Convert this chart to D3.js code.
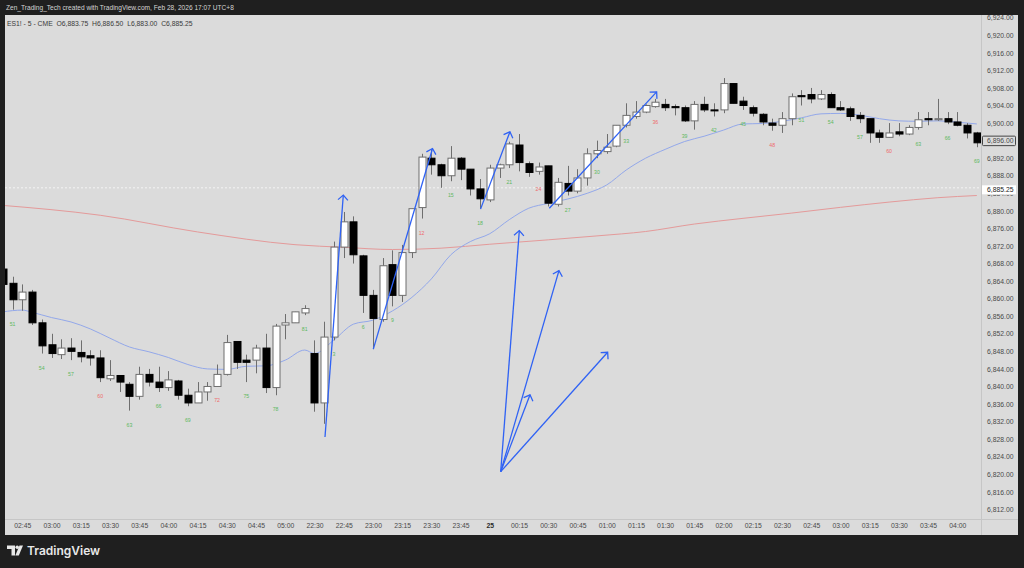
<!DOCTYPE html>
<html>
<head>
<meta charset="UTF-8">
<title>ES1! 5 - CME</title>
<style>
  body { margin: 0; background: #1f1f1f; }
  svg { display: block; }
  text { font-family: "Liberation Sans", Arial, sans-serif; }
  .axis text { font-size: 6.8px; fill: #4a4a4a; }
  .cnt { font-size: 5.2px; text-anchor: middle; }
</style>
</head>
<body>
<svg id="chart" width="1024" height="568"></svg>
<script src="https://cdn.jsdelivr.net/npm/d3@7"></script>
<script>
// bar 0 = 02:35 (session bar 50), bar 32 = 22:30 (new session, bar 1)
var open = [6866.75,6863.5,6859.75,6861.5,6854.5,6849.5,6847.25,6848.75,6847.75,6847.0,
  6846.5,6841.75,6842.5,6840.5,6837.75,6842.75,6841.0,6839.75,6841.25,6838.0,
  6836.25,6838.75,6840.0,6842.75,6850.25,6846.0,6846.0,6848.75,6839.75,6854.0,
  6854.5,6856.75,6847.5,6836.25,6851.25,6871.75,6877.5,6869.75,6860.75,6855.25,
  6867.75,6860.75,6870.5,6880.75,6892.0,6890.5,6888.0,6892.0,6889.5,6885.0,
  6882.5,6889.75,6890.5,6895.0,6890.75,6889.0,6890.25,6881.5,6886.25,6884.5,
  6887.5,6893.0,6893.5,6894.75,6899.5,6901.5,6902.5,6903.75,6904.25,6903.75,
  6903.5,6900.5,6904.25,6903.0,6903.0,6909.0,6905.0,6903.5,6902.0,6900.0,
  6899.5,6901.0,6906.25,6906.5,6905.5,6906.5,6903.5,6903.25,6901.75,6901.0,
  6897.75,6896.75,6898.0,6897.5,6899.0,6901.0,6900.75,6901.0,6900.25,6899.5,6897.75];
var high = [6868.0,6865.0,6863.25,6862.0,6855.25,6852.0,6850.75,6851.0,6850.5,6848.25,
  6848.25,6846.0,6842.5,6841.0,6844.5,6844.0,6844.5,6843.5,6841.5,6839.5,
  6841.0,6841.0,6845.0,6851.75,6850.25,6847.25,6849.5,6852.0,6854.25,6856.5,
  6857.0,6858.5,6850.5,6854.75,6873.0,6879.75,6878.75,6870.0,6862.0,6869.25,
  6871.0,6872.25,6880.5,6893.0,6894.0,6890.75,6894.75,6892.25,6889.5,6887.25,
  6890.5,6890.75,6895.75,6897.5,6891.25,6891.0,6890.25,6887.5,6890.25,6889.5,
  6894.25,6896.0,6897.5,6899.5,6904.5,6905.0,6904.25,6905.5,6905.5,6904.25,
  6904.0,6905.0,6906.0,6904.5,6910.25,6909.0,6906.0,6904.0,6902.25,6901.0,
  6902.5,6906.75,6907.5,6908.0,6907.5,6907.0,6905.0,6903.75,6902.5,6901.0,
  6898.5,6900.0,6900.0,6899.5,6902.5,6902.5,6905.5,6902.5,6902.5,6900.0,6898.0];
var low = [6861.0,6857.5,6857.25,6854.0,6847.5,6846.5,6846.25,6846.0,6845.5,6844.75,
  6841.0,6841.25,6838.75,6834.5,6837.0,6840.0,6838.75,6839.0,6837.0,6835.5,
  6836.25,6836.75,6840.0,6842.5,6844.0,6841.0,6843.0,6838.5,6838.0,6850.75,
  6854.5,6856.25,6834.25,6831.5,6850.5,6869.25,6868.0,6856.75,6848.5,6854.75,
  6858.25,6859.25,6869.25,6878.25,6888.25,6885.25,6886.75,6887.0,6883.5,6880.5,
  6882.0,6887.5,6889.75,6889.0,6887.75,6888.25,6881.0,6881.0,6883.5,6884.0,
  6885.75,6892.0,6893.0,6894.5,6899.0,6901.0,6902.25,6903.5,6902.75,6901.75,
  6900.25,6898.5,6902.5,6901.5,6902.25,6904.5,6903.0,6901.5,6899.5,6898.25,
  6897.75,6899.5,6904.0,6904.5,6905.25,6903.5,6902.75,6900.5,6900.0,6895.5,
  6895.5,6896.75,6897.0,6897.25,6898.5,6899.5,6900.5,6899.75,6899.25,6896.5,6894.5];
var close = [6863.25,6859.75,6861.5,6854.5,6849.25,6847.5,6848.75,6848.0,6846.75,6846.5,
  6842.0,6842.5,6841.0,6837.75,6842.75,6841.0,6839.75,6841.5,6838.0,6836.25,
  6838.75,6840.0,6842.75,6850.0,6845.5,6845.5,6848.75,6839.75,6853.75,6854.5,
  6857.0,6857.75,6836.25,6851.25,6871.75,6877.5,6870.0,6860.75,6855.5,6867.5,
  6860.75,6870.5,6880.5,6892.25,6890.5,6888.0,6892.0,6889.5,6885.0,6882.75,
  6889.75,6890.5,6895.25,6891.0,6888.75,6890.0,6881.75,6886.5,6884.5,6887.5,
  6893.0,6893.75,6894.5,6899.5,6901.75,6902.5,6904.0,6904.75,6903.5,6903.5,
  6900.5,6904.25,6903.0,6903.0,6909.0,6904.5,6904.0,6902.25,6900.25,6899.5,
  6901.0,6906.0,6906.0,6905.5,6906.5,6903.5,6903.0,6901.5,6901.0,6897.75,
  6896.75,6897.75,6897.5,6899.0,6900.75,6900.75,6901.0,6900.25,6899.5,6897.75,6895.5];

var sessionStart = 32;          // first bar of the second session
var firstCount = 50;            // session bar number of bar 0

// fast average (blue): [bar, price]
var maFast = [[0,6857.0],[2,6857.4],[3,6856.9],[5,6855.7],[7,6854.7],[9,6853.1],[11,6851.0],
  [13,6849.0],[15,6847.9],[17,6846.6],[19,6845.0],[21,6844.0],[23,6843.9],[25,6844.6],
  [27,6844.7],[29,6846.0],[31,6848.3],[32,6847.5],[34,6850.6],[36,6854.2],[38,6855.1],
  [40,6857.2],[42,6860.3],[44,6864.5],[46,6870.0],[48,6873.0],[50,6874.8],[52,6878.0],
  [54,6880.6],[56,6881.7],[58,6882.7],[60,6884.0],[62,6885.9],[64,6889.3],[66,6892.0],
  [68,6894.0],[70,6895.8],[72,6897.0],[74,6898.4],[76,6899.8],[78,6899.9],[80,6900.4],
  [82,6901.2],[84,6902.1],[86,6902.2],[88,6901.8],[90,6901.0],[92,6900.5],[94,6900.4],
  [96,6900.5],[98,6900.2],[100,6899.8]];
// slow average (red)
var maSlow = [[-0.3,6881.3],[10,6879.0],[20,6875.2],[30,6872.3],[35,6871.7],[40,6871.2],
  [45,6871.5],[50,6872.4],[56,6873.4],[61,6874.3],[66,6875.3],[71,6877.0],[76,6878.3],
  [81,6879.5],[86,6880.8],[91,6882.0],[96,6883.0],[100,6883.5]];

// drawn arrows: [bar0, price0, bar1, price1]
var arrows = [[33.08,6828.5,34.96,6883.6],[38.04,6848.5,44.12,6894.2],
  [49.05,6880.4,52.07,6898.0],[56.11,6880.6,67.13,6907.1],
  [51.12,6820.6,53.03,6875.5],[51.12,6820.6,57.10,6866.4],
  [51.12,6820.6,54.13,6838.1],[51.12,6820.6,62.10,6847.8]];

var tickIdx = [2,5,8,11,14,17,20,23,26,29,32,35,38,41,44,47,50,53,56,59,62,65,68,71,74,77,80,83,86,89,92,95,98];
var tickLbl = ["02:45","03:00","03:15","03:30","03:45","04:00","04:15","04:30","04:45","05:00",
  "22:30","22:45","23:00","23:15","23:30","23:45","25","00:15","00:30","00:45","01:00","01:15",
  "01:30","01:45","02:00","02:15","02:30","02:45","03:00","03:15","03:30","03:45","04:00"];

var lastPrice = 6885.25, markPrice = 6896.00;
var header = "ES1! - 5 - CME  O6,883.75  H6,886.50  L6,883.00  C6,885.25";
var credit = "Zen_Trading_Tech created with TradingView.com, Feb 28, 2026 17:07 UTC+8";

var svg = d3.select("#chart");
var L = 5, T = 15, R = 981, B = 519;

var x = d3.scaleLinear().domain([0, 100]).range([2.8, 976.8]);
var y = d3.scaleLinear().domain([6812, 6924]).range([509.4, 17.7]);

// panels
svg.append("rect").attr("x", L).attr("y", T).attr("width", 1018 - L).attr("height", 535 - T).attr("fill", "#dbdbdb");
svg.append("line").attr("x1", R + 0.5).attr("x2", R + 0.5).attr("y1", T).attr("y2", 535).attr("stroke", "#c6c6c6");
svg.append("line").attr("x1", L).attr("x2", 1018).attr("y1", B + 0.5).attr("y2", B + 0.5).attr("stroke", "#c6c6c6");

svg.append("text").attr("x", 6).attr("y", 10).attr("fill", "#d4d4d4").style("font-size", "6.6px").text(credit);

svg.append("clipPath").attr("id", "plot").append("rect")
  .attr("x", L).attr("y", T).attr("width", R - L).attr("height", B - T);
var g = svg.append("g").attr("clip-path", "url(#plot)");

// last price dashed line
g.append("line").attr("x1", L).attr("x2", R).attr("y1", y(lastPrice)).attr("y2", y(lastPrice))
  .attr("stroke", "#f4f4f4").attr("stroke-dasharray", "2,2");

var line = d3.line().x(d => x(d[0])).y(d => y(d[1])).curve(d3.curveMonotoneX);
g.append("path").attr("d", line(maSlow)).attr("fill", "none").attr("stroke", "#e49a9a").attr("stroke-width", 1);
g.append("path").attr("d", line(maFast)).attr("fill", "none").attr("stroke", "#93a8ea").attr("stroke-width", 1);

// candles
var bars = d3.range(open.length);
var c = g.append("g").selectAll("g").data(bars).enter().append("g");
c.append("line")
  .attr("x1", i => Math.round(x(i)) + 0.5).attr("x2", i => Math.round(x(i)) + 0.5)
  .attr("y1", i => y(high[i])).attr("y2", i => y(low[i]))
  .attr("stroke", "#6e6e6e");
c.append("rect")
  .attr("x", i => Math.round(x(i)) - 3)
  .attr("y", i => y(Math.max(open[i], close[i])))
  .attr("width", 7)
  .attr("height", i => Math.max(1, Math.abs(y(open[i]) - y(close[i]))))
  .attr("fill", i => close[i] > open[i] ? "#ffffff" : "#000000")
  .attr("stroke", i => close[i] > open[i] ? "#6e6e6e" : "#000000")
  .attr("stroke-width", 1);

// session bar counts
function count(i) { return i < sessionStart ? i + firstCount : i - sessionStart + 1; }
var counted = bars.filter(i => count(i) % 3 == 0);
g.selectAll("text.cnt").data(counted).enter().append("text")
  .attr("class", "cnt")
  .attr("x", i => x(i)).attr("y", i => y(low[i]) + 16)
  .attr("fill", i => count(i) % 12 == 0 ? "#ee6b6b" : "#5cb860")
  .text(count);

// arrows
var ag = g.append("g").attr("stroke", "#2f62f4").attr("stroke-width", 1.3).attr("fill", "none");
arrows.forEach(a => {
  var x0 = x(a[0]), y0 = y(a[1]), x1 = x(a[2]), y1 = y(a[3]);
  var ang = Math.atan2(y0 - y1, x0 - x1), len = 7;
  var b1 = [x1 + len * Math.cos(ang + Math.PI / 4), y1 + len * Math.sin(ang + Math.PI / 4)];
  var b2 = [x1 + len * Math.cos(ang - Math.PI / 4), y1 + len * Math.sin(ang - Math.PI / 4)];
  ag.append("path").attr("d", "M" + x0 + "," + y0 + "L" + x1 + "," + y1);
  ag.append("path").attr("d", "M" + b1 + "L" + x1 + "," + y1 + "L" + b2);
});

svg.append("text").attr("x", 7).attr("y", 25.5).attr("fill", "#3a3a3a").style("font-size", "6.8px")
  .attr("xml:space", "preserve").text(header);

// axes
var ya = svg.append("g").attr("class", "axis").attr("transform", "translate(" + R + ",0)")
  .call(d3.axisRight(y).tickValues(d3.range(6812, 6925, 4)).tickFormat(d3.format(",.2f")).tickSize(0).tickPadding(6));
ya.select(".domain").remove();

// the last-price label hides the top half of the nearest tick label
var near = ya.selectAll(".tick").filter(d => Math.abs(y(d) - y(lastPrice)) < 8);
near.append("clipPath").attr("id", "under").append("rect")
  .attr("x", 0).attr("y", d => y(lastPrice) + 6.5 - y(d)).attr("width", 40).attr("height", 10);
near.select("text").attr("clip-path", "url(#under)");

var xa = svg.append("g").attr("class", "axis").attr("transform", "translate(0," + B + ")")
  .call(d3.axisBottom(x).tickValues(tickIdx).tickFormat((d, k) => tickLbl[k]).tickSize(0).tickPadding(4.5));
xa.select(".domain").remove();
xa.selectAll("text").filter(d => d == 50).style("font-weight", "bold").style("fill", "#2a2a2a");

// price labels
svg.append("rect").attr("x", 982.5).attr("y", y(markPrice) - 4.5).attr("width", 33).attr("height", 9.5)
  .attr("fill", "none").attr("stroke", "#444").attr("stroke-width", 1).attr("rx", 1);
svg.append("rect").attr("x", 982).attr("y", y(lastPrice) - 2.5).attr("width", 34).attr("height", 9)
  .attr("fill", "#ffffff");
svg.append("text").attr("x", 987).attr("y", y(lastPrice) + 4.5).attr("fill", "#222").style("font-size", "6.8px")
  .text(d3.format(",.2f")(lastPrice));

// footer logo
var logo = svg.append("g").attr("fill", "#e8e8e8");
logo.append("path").attr("d", "M7,545.5h8v10h-3.5v-6.5h-4.5z");
logo.append("circle").attr("cx", 17.2).attr("cy", 547.3).attr("r", 1.8);
logo.append("path").attr("d", "M19.5,545.5h3.5l-4.2,10h-3.5z");
svg.append("text").attr("x", 27).attr("y", 555).attr("fill", "#e8e8e8")
  .style("font-size", "12px").style("font-weight", "600").style("font-family", "Inter, 'Noto Sans', sans-serif")
  .text("TradingView");
</script>
</body>
</html>
